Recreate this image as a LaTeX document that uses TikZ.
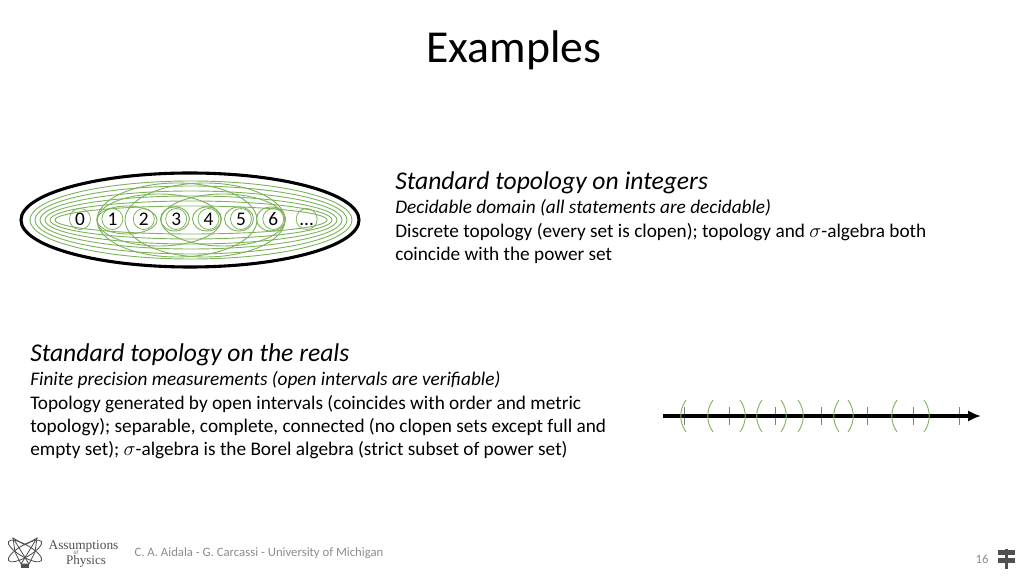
\documentclass[tikz,border=0pt]{standalone}
\usepackage{fontspec}
\setmainfont{Carlito}
\newfontfamily\logofont{Liberation Serif}
\usepackage{amsmath}
\usetikzlibrary{positioning, arrows.meta}
\definecolor{setgreen}{HTML}{7DB35A}
\definecolor{footgray}{HTML}{8C8C8C}
\definecolor{logogray}{HTML}{505050}
\tikzset{num node/.style={circle, draw=setgreen, line width=0.55pt, text=black, minimum size=0.525cm, inner sep=0pt, font=\fontsize{13.7}{15}\selectfont},}
\tikzset{open set/.style={draw=setgreen, line width=0.65pt},}
\tikzset{head text/.style={anchor=west, inner sep=0pt, font=\fontsize{18.2}{20}\selectfont\itshape},}
\tikzset{body text/.style={anchor=north west, inner sep=0pt, align=left, font=\fontsize{13.7}{16.5}\selectfont},}
\tikzset{tick mark/.style={draw=gray, line width=0.6pt},}

\begin{document}
\begin{tikzpicture}[x=0.025cm, y=-0.025cm]
	\useasboundingbox (0,0) rectangle (1024,576);
	% Title
	\node[font=\fontsize{32.5}{36}\selectfont] (title) at (514,50) {Examples};
	% Integers
	\node[num node] (n0) at (80,219) {0};
	\node[num node] [right = 0.265cm of n0] (n1) {1};
	\node[num node] [right = 0.24cm of n1] (n2) {2};
	\node[num node] [right = 0.265cm of n2] (n3) {3};
	\node[num node] [right = 0.265cm of n3] (n4) {4};
	\node[num node] [right = 0.265cm of n4] (n5) {5};
	\node[num node] [right = 0.265cm of n5] (n6) {6};
	\node[num node] [right = 0.29cm of n6] (nd) {\vphantom{0}...};
	% Open sets
	\draw[open set] (127,220) ellipse (30 and 14);
	\draw[open set] (175,219) ellipse (14.5 and 12);
	\draw[open set] (207,219) ellipse (14.5 and 12);
	\draw[open set] (239,219) ellipse (14.5 and 12);
	\draw[open set] (271,219) ellipse (14.5 and 12);
	\draw[open set] (159,220) ellipse (62 and 26);
	\draw[open set] (223,220) ellipse (62 and 26);
	\draw[open set] (177,220) ellipse (80 and 37);
	\draw[open set] (205,220) ellipse (80 and 37);
	\draw[open set] (191,220) ellipse (136 and 14);
	\draw[open set] (191,220) ellipse (141 and 19);
	\draw[open set] (191,220) ellipse (146 and 24);
	\draw[open set] (191,220) ellipse (151 and 29);
	\draw[open set] (191,220) ellipse (156 and 34);
	\draw[open set] (191,220) ellipse (161 and 39);
	\draw[line width=2.2pt] (190,220) ellipse (169 and 47);
	\node[head text] (inthead) at (395,182.5) {Standard topology on integers};
	\node[body text] [below = 0.14cm of inthead.south west, anchor=north west] (intbody) {\textit{Decidable domain (all statements are decidable)}\\Discrete topology (every set is clopen); topology and $\sigma$-algebra both\\coincide with the power set};
	% Reals
	\node[head text] (realhead) at (30,354.5) {Standard topology on the reals};
	\node[body text] [below = 0.14cm of realhead.south west, anchor=north west] (realbody) {\textit{Finite precision measurements (open intervals are verifiable)}\\Topology generated by open intervals (coincides with order and metric\\topology); separable, complete, connected (no clopen sets except full and\\empty set); $\sigma$-algebra is the Borel algebra (strict subset of power set)};
	\coordinate (start) at (663,416);
	\coordinate (end) at (981,416);
	\draw[tick mark] (684,407) -- (684,425);
	\draw[tick mark] (729,407) -- (729,425);
	\draw[tick mark] (775,407) -- (775,425);
	\draw[tick mark] (821,407) -- (821,425);
	\draw[tick mark] (867,407) -- (867,425);
	\draw[tick mark] (913,407) -- (913,425);
	\draw[tick mark] (959,407) -- (959,425);
	\draw[-{Latex[length=0.32cm,width=0.28cm]}, line width=2.4pt] (start) -- (end);
	\draw[open set] (686,400) .. controls (679,410) and (679,422) .. (686,432);
	\draw[open set] (713,400) .. controls (706,410) and (706,422) .. (713,432);
	\draw[open set] (740,400) .. controls (747,410) and (747,422) .. (740,432);
	\draw[open set] (762,400) .. controls (755,410) and (755,422) .. (762,432);
	\draw[open set] (781,400) .. controls (788,410) and (788,422) .. (781,432);
	\draw[open set] (798,400) .. controls (805,410) and (805,422) .. (798,432);
	\draw[open set] (839,400) .. controls (832,410) and (832,422) .. (839,432);
	\draw[open set] (848,400) .. controls (855,410) and (855,422) .. (848,432);
	\draw[open set] (897,400) .. controls (890,410) and (890,422) .. (897,432);
	\draw[open set] (924,400) .. controls (931,410) and (931,422) .. (924,432);
	% Footer
	\node[text=footgray, font=\fontsize{9.05}{10}\selectfont] (credits) at (259,553.5) {C. A. Aidala - G. Carcassi - University of Michigan};
	\node[text=footgray, font=\fontsize{9.05}{10}\selectfont] (page) at (982,559) {16};
	\fill[logogray] (998,550) rectangle (1015,555);
	\fill[logogray] (998,558) rectangle (1015,563);
	\fill[logogray] (1005,549) rectangle (1007.5,569);
	% Logo
	\draw[logogray, line width=0.6pt, rotate around={30:(25,551)}] (25,551) ellipse (19 and 6);
	\draw[logogray, line width=0.6pt, rotate around={-30:(25,551)}] (25,551) ellipse (19 and 6);
	\draw[logogray, line width=0.6pt] (13,538) -- (25,545) -- (37,538) -- (35,552) -- (29,564) -- (21,564) -- (15,552) -- cycle;
	\draw[logogray, line width=0.6pt] (13,538) -- (29,564);
	\draw[logogray, line width=0.6pt] (37,538) -- (21,564);
	\fill[logogray] (21,564) rectangle (29,568);
	\node[text=logogray, font=\logofont\fontsize{9.5}{12}\selectfont, inner sep=0pt] (logoa) at (83.5,546) {Assumptions};
	\node[text=logogray, font=\logofont\fontsize{4}{5}\selectfont, inner sep=0pt] (logob) at (76,553) {of};
	\node[text=logogray, font=\logofont\fontsize{9.3}{12}\selectfont, inner sep=0pt] (logoc) at (86,561.5) {Physics};
\end{tikzpicture}
\end{document}
